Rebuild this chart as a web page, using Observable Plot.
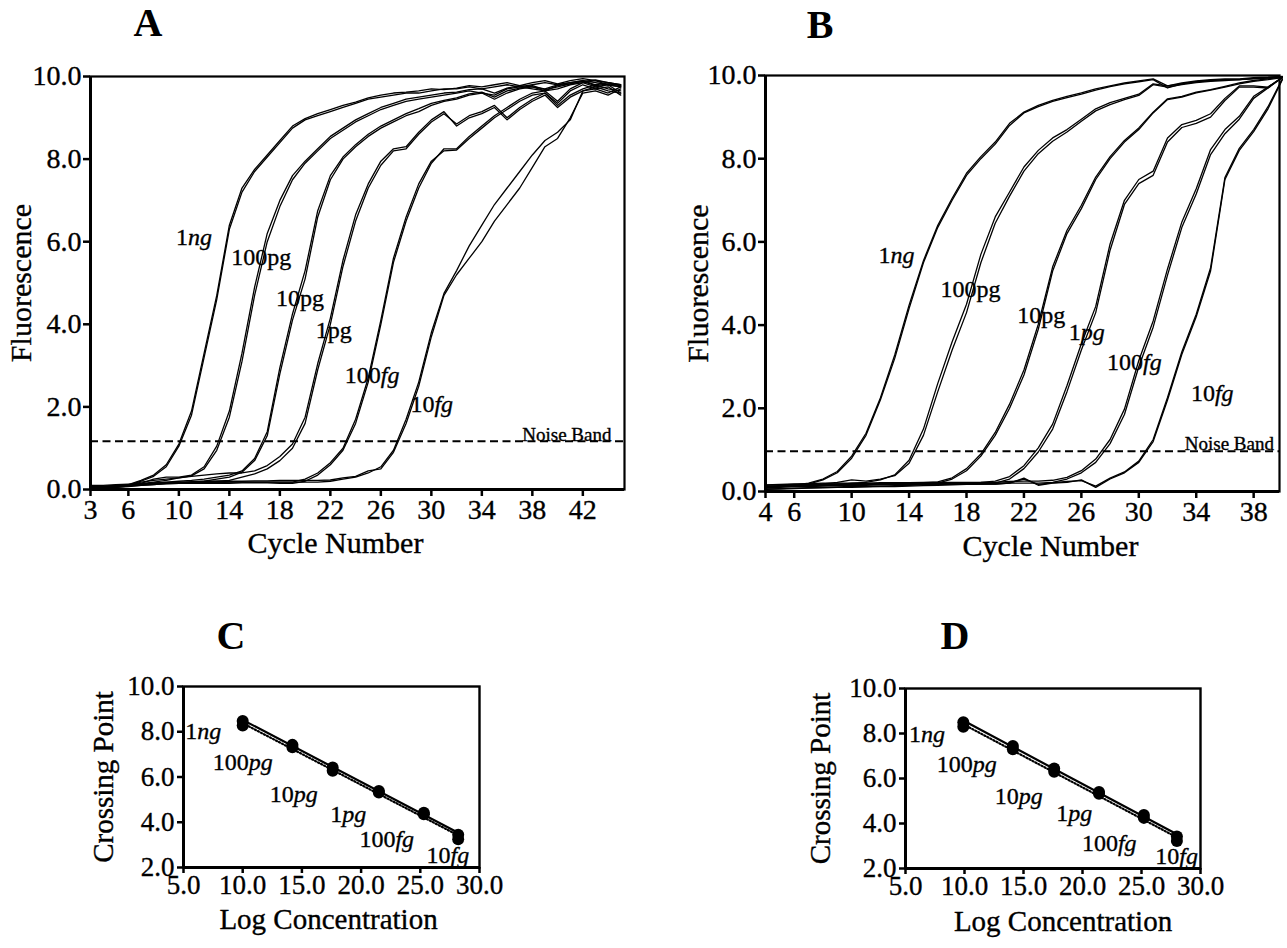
<!DOCTYPE html>
<html><head><meta charset="utf-8">
<script src="https://cdn.jsdelivr.net/npm/d3@7"></script>
<script src="https://cdn.jsdelivr.net/npm/@observablehq/plot@0.6"></script>
<style>
html,body{margin:0;padding:0;background:#fff;}
#page{position:relative;width:1287px;height:948px;overflow:hidden;font-family:"Liberation Serif","Times New Roman",serif;color:#000;}
.panel{position:absolute;}
#page svg text{font-family:"Liberation Serif","Times New Roman",serif !important;stroke:#000;stroke-width:0.35px;}
.letter{position:absolute;font-weight:bold;font-size:40px;line-height:1;transform:translateX(-50%);}
</style></head><body><div id="page"></div>
<script>
// ---------- Panel A : amplification curves (cycles 3..45) ----------
const cyclesA = [3,4,5,6,7,8,9,10,11,12,13,14,15,16,17,18,19,20,21,22,23,24,25,26,27,28,29,30,31,32,33,34,35,36,37,38,39,40,41,42,43,44,45];
const A_1ng_r1 = [0.05,0.05,0.06,0.10,0.20,0.32,0.55,1.05,1.80,3.20, 4.60,6.30,7.20,7.70,8.05,8.40,8.75,8.95,9.05,9.15, 9.25,9.35,9.45,9.50,9.55,9.60,9.60,9.65,9.70,9.70, 9.75,9.70,9.75,9.80,9.75,9.80,9.85,9.80,9.85,9.90, 9.85,9.80,9.75];
const A_1ng_r2 = [0.04,0.06,0.08,0.12,0.22,0.35,0.60,1.10,1.90,3.30, 4.70,6.40,7.30,7.75,8.10,8.45,8.80,8.98,9.10,9.20, 9.30,9.38,9.48,9.55,9.60,9.62,9.65,9.70,9.68,9.72, 9.78,9.75,9.80,9.85,9.78,9.85,9.90,9.82,9.90,9.95, 9.90,9.85,9.80];
const A_100pg_r1 = [0.05,0.05,0.06,0.08,0.15,0.25,0.30,0.30,0.35,0.55, 1.05,1.90,3.30,4.90,6.20,7.00,7.60,7.95,8.25,8.55, 8.75,8.95,9.10,9.25,9.35,9.45,9.50,9.55,9.60,9.62, 9.68,9.70,9.60,9.72,9.78,9.75,9.70,9.80,9.85,9.90, 9.80,9.85,9.80];
const A_100pg_r2 = [0.06,0.07,0.08,0.10,0.18,0.22,0.25,0.28,0.33,0.50, 0.95,1.75,3.10,4.70,6.00,6.85,7.50,7.90,8.20,8.50, 8.70,8.90,9.05,9.20,9.30,9.40,9.45,9.50,9.55,9.60, 9.65,9.60,9.55,9.70,9.75,9.70,9.65,9.78,9.82,9.88, 9.78,9.82,9.78];
const A_10pg_r1 = [0.04,0.05,0.05,0.07,0.10,0.12,0.14,0.15,0.17,0.20, 0.25,0.30,0.42,0.70,1.30,2.80,4.10,5.10,6.60,7.50, 8.00,8.30,8.55,8.75,8.90,9.05,9.15,9.30,9.40,9.45, 9.55,9.60,9.45,9.60,9.70,9.75,9.65,9.70,9.80,9.85, 9.90,9.80,9.75];
const A_10pg_r2 = [0.05,0.06,0.07,0.09,0.12,0.15,0.18,0.20,0.22,0.25, 0.30,0.35,0.45,0.75,1.40,2.95,4.25,5.30,6.75,7.60, 8.05,8.35,8.60,8.80,8.95,9.10,9.22,9.35,9.42,9.48, 9.58,9.62,9.50,9.65,9.72,9.78,9.68,9.75,9.82,9.88, 9.92,9.85,9.78];
const A_1pg_r1 = [0.05,0.06,0.06,0.08,0.10,0.12,0.14,0.15,0.16,0.18, 0.20,0.22,0.30,0.38,0.50,0.70,1.00,1.60,2.90,4.00, 5.40,6.50,7.30,7.85,8.20,8.25,8.60,8.90,9.10,8.85, 9.05,9.15,9.30,9.00,9.25,9.45,9.60,9.30,9.55,9.70, 9.80,9.70,9.65];
const A_1pg_r2 = [0.06,0.07,0.08,0.10,0.14,0.18,0.22,0.28,0.32,0.35, 0.38,0.40,0.40,0.45,0.58,0.80,1.10,1.75,3.05,4.15, 5.55,6.65,7.40,7.95,8.25,8.30,8.65,8.95,9.15,8.80, 9.00,9.10,9.25,8.95,9.20,9.40,9.55,9.25,9.50,9.65, 9.75,9.65,9.60];
const A_100fg_r1 = [0.08,0.08,0.10,0.12,0.12,0.14,0.14,0.15,0.15,0.15, 0.15,0.15,0.16,0.16,0.16,0.15,0.15,0.20,0.35,0.60, 0.95,1.60,2.60,4.00,5.50,6.50,7.30,7.90,8.25,8.25, 8.55,8.80,9.05,9.25,9.45,9.60,9.65,9.40,9.70,9.85, 9.75,9.80,9.60];
const A_100fg_r2 = [0.10,0.10,0.12,0.13,0.14,0.15,0.16,0.16,0.17,0.17, 0.17,0.18,0.18,0.18,0.18,0.18,0.18,0.25,0.40,0.65, 1.00,1.70,2.70,4.10,5.60,6.60,7.40,7.95,8.20,8.22, 8.50,8.75,9.00,9.20,9.40,9.55,9.60,9.35,9.65,9.80, 9.70,9.75,9.55];
const A_10fg_r1 = [0.05,0.06,0.08,0.10,0.12,0.15,0.15,0.16,0.16,0.17, 0.17,0.18,0.18,0.18,0.18,0.18,0.18,0.18,0.18,0.20, 0.25,0.30,0.40,0.55,0.95,1.70,2.60,3.80,4.75,5.30, 5.90,6.40,6.90,7.30,7.70,8.10,8.45,8.65,8.95,9.65, 9.70,9.60,9.75];
const A_10fg_r2 = [0.06,0.07,0.09,0.11,0.13,0.16,0.17,0.18,0.19,0.20, 0.20,0.20,0.20,0.21,0.21,0.22,0.22,0.22,0.22,0.23, 0.28,0.32,0.45,0.50,0.90,1.60,2.50,3.70,4.70,5.20, 5.60,6.00,6.50,6.90,7.30,7.80,8.30,8.50,9.00,9.60, 9.65,9.55,9.70];
const noiseA = 1.17;
const xTicksA = [3,6,10,14,18,22,26,30,34,38,42];

// ---------- Panel B : amplification curves (cycles 4..40) ----------
const cyclesB = [4,5,6,7,8,9,10,11,12,13,14,15,16,17,18,19,20,21,22,23,24,25,26,27,28,29,30,31,32,33,34,35,36,37,38,39,40];
const B_1ng_r1 = [0.08,0.10,0.13,0.18,0.28,0.45,0.80,1.35,2.20,3.20, 4.40,5.50,6.35,7.00,7.60,8.00,8.35,8.80,9.10,9.25, 9.38,9.47,9.55,9.65,9.73,9.80,9.85,9.90,9.70,9.80, 9.85,9.88,9.90,9.90,9.93,9.95,9.97];
const B_1ng_r2 = [0.10,0.12,0.15,0.20,0.30,0.48,0.85,1.40,2.25,3.28, 4.48,5.55,6.40,7.05,7.65,8.05,8.40,8.85,9.12,9.28, 9.40,9.50,9.58,9.68,9.75,9.82,9.87,9.92,9.75,9.82, 9.87,9.90,9.92,9.92,9.95,9.96,9.98];
const B_100pg_r1 = [0.10,0.12,0.12,0.13,0.14,0.16,0.20,0.22,0.28,0.40, 0.75,1.50,2.60,3.60,4.50,5.70,6.60,7.20,7.80,8.20, 8.50,8.70,8.95,9.20,9.35,9.45,9.55,9.80,9.75,9.80, 9.85,9.88,9.90,9.90,9.93,9.95,9.97];
const B_100pg_r2 = [0.12,0.14,0.15,0.16,0.18,0.22,0.28,0.25,0.30,0.38, 0.68,1.35,2.40,3.40,4.30,5.50,6.45,7.10,7.70,8.12, 8.42,8.64,8.90,9.15,9.30,9.42,9.52,9.78,9.72,9.78, 9.83,9.86,9.88,9.90,9.92,9.94,9.96];
const B_10pg_r1 = [0.10,0.11,0.12,0.12,0.13,0.14,0.15,0.15,0.16,0.17, 0.18,0.18,0.20,0.30,0.50,0.85,1.35,2.00,2.80,3.90, 5.30,6.20,6.80,7.50,8.00,8.40,8.70,9.10,9.42,9.48, 9.58,9.65,9.72,9.80,9.86,9.90,9.95];
const B_10pg_r2 = [0.12,0.13,0.14,0.15,0.15,0.16,0.17,0.18,0.18,0.19, 0.20,0.21,0.23,0.33,0.55,0.90,1.42,2.10,2.92,4.02, 5.40,6.28,6.88,7.56,8.05,8.44,8.74,9.12,9.44,9.50, 9.60,9.66,9.74,9.82,9.88,9.92,9.96];
const B_1pg_r1 = [0.05,0.06,0.07,0.08,0.09,0.10,0.10,0.11,0.12,0.12, 0.13,0.14,0.15,0.16,0.17,0.18,0.20,0.30,0.55,0.95, 1.50,2.40,3.40,4.30,5.80,6.90,7.40,7.60,8.40,8.75, 8.85,9.00,9.40,9.72,9.72,9.70,9.95];
const B_1pg_r2 = [0.06,0.07,0.08,0.09,0.10,0.11,0.12,0.12,0.13,0.14, 0.15,0.16,0.17,0.18,0.20,0.22,0.25,0.36,0.62,1.05, 1.62,2.55,3.55,4.45,5.95,7.00,7.50,7.70,8.50,8.82, 8.92,9.08,9.45,9.75,9.75,9.72,9.96];
const B_100fg_r1 = [0.15,0.16,0.17,0.17,0.18,0.18,0.18,0.18,0.18,0.18, 0.18,0.18,0.18,0.18,0.18,0.18,0.18,0.20,0.20,0.20, 0.22,0.30,0.45,0.70,1.15,1.85,3.00,3.95,5.20,6.35, 7.15,8.10,8.60,8.95,9.45,9.70,9.95];
const B_100fg_r2 = [0.16,0.17,0.18,0.19,0.20,0.20,0.20,0.20,0.21,0.21, 0.21,0.22,0.22,0.22,0.22,0.22,0.22,0.24,0.25,0.25, 0.27,0.34,0.50,0.78,1.25,1.98,3.15,4.10,5.35,6.48, 7.28,8.22,8.70,9.02,9.50,9.72,9.96];
const B_10fg_r1 = [0.10,0.12,0.14,0.15,0.15,0.16,0.17,0.17,0.17,0.18, 0.18,0.18,0.18,0.18,0.18,0.18,0.18,0.20,0.32,0.15, 0.20,0.22,0.28,0.10,0.30,0.45,0.70,1.20,2.20,3.30, 4.20,5.30,7.50,8.20,8.65,9.20,9.90];
const B_10fg_r2 = [0.11,0.13,0.15,0.16,0.16,0.17,0.18,0.18,0.18,0.19, 0.19,0.19,0.19,0.19,0.19,0.19,0.19,0.21,0.30,0.17, 0.21,0.24,0.26,0.13,0.32,0.47,0.73,1.25,2.26,3.36, 4.26,5.38,7.55,8.25,8.70,9.25,9.92];
const noiseB = 0.97;
const xTicksB = [4,6,10,14,18,22,26,30,34,38];

const yTicksAB = [0,2,4,6,8,10];

// curve labels: amount, unit, italic unit?, anchor cycle (split point), fluorescence
const labelNum = ["1","100","10","1","100","10"];
const labelUnit = ["ng","pg","pg","pg","fg","fg"];
const A_labelItalic = [true,false,false,false,true,true];
const A_labelX = [10.72,17.0,19.6,21.8,26.0,30.24];
const A_labelY = [6.1,5.62,4.62,3.85,2.76,2.07];
const B_labelItalic = [true,false,false,true,true,true];
const B_labelX = [12.7,18.7,23.2,25.95,30.3,35.3];
const B_labelY = [5.67,4.87,4.23,3.83,3.1,2.35];
const noiseText = "Noise Band";
const A_noiseLabelX = 37.2, A_noiseLabelY = 1.33;
const B_noiseLabelX = 33.2, B_noiseLabelY = 1.15;

// ---------- Panels C and D : standard curves ----------
const C_logConc = [10.0,14.2,17.6,21.5,25.3,28.2];
const C_cross_r1 = [8.48,7.42,6.42,5.38,4.42,3.45];
const C_cross_r2 = [8.28,7.32,6.28,5.32,4.35,3.25];
const D_logConc = [9.9,14.1,17.6,21.4,25.2,28.0];
const D_cross_r1 = [8.50,7.45,6.45,5.40,4.38,3.42];
const D_cross_r2 = [8.30,7.30,6.30,5.32,4.25,3.22];
const C_labelX = [6.16,10.52,14.32,18.4,22.9,27.55];
const C_labelY = [8.04,6.64,5.23,4.34,3.23,2.56];
const D_labelX = [6.31,10.69,14.6,18.8,23.0,28.2];
const D_labelY = [7.98,6.64,5.22,4.47,3.12,2.53];
const xTicksCD = [5,10,15,20,25,30];
const yTicksCD = [2,4,6,8,10];

// ---------- helpers ----------
const FONT = "Liberation Serif";
const page = document.getElementById("page");

function curveRows(cycles, series) {
  const rows = [];
  for (const [id, vals] of series) vals.forEach((v, i) => rows.push({id, cycle: cycles[i], value: v}));
  return rows;
}
function labelRows(xs, ys, italic) {
  return labelNum.map((n, i) => ({num: n, unit: labelUnit[i], italic: italic ? italic[i] : true, x: xs[i], y: ys[i]}));
}
function place(svg, left, top) {
  svg.setAttribute("font-family", FONT);
  svg.style.fontFamily = FONT;
  const wrap = document.createElement("div");
  wrap.className = "panel";
  wrap.style.left = left + "px";
  wrap.style.top = top + "px";
  wrap.appendChild(svg);
  page.appendChild(wrap);
}
function letter(t, cx, top) {
  const d = document.createElement("div");
  d.className = "letter"; d.textContent = t;
  d.style.left = cx + "px"; d.style.top = top + "px";
  page.appendChild(d);
}
const T = {fontFamily: FONT, fill: "black"};
function labelMarks(rows, fs) {
  return [
    Plot.text(rows, {...T, x: "x", y: "y", text: "num", textAnchor: "end", fontSize: fs}),
    Plot.text(rows.filter(d => d.italic), {...T, x: "x", y: "y", text: "unit", textAnchor: "start", fontSize: fs, fontStyle: "italic"}),
    Plot.text(rows.filter(d => !d.italic), {...T, x: "x", y: "y", text: "unit", textAnchor: "start", fontSize: fs})
  ];
}

function ampPanel(o) {
  const [fx0, fy0, fx1, fy1] = o.frame;
  return Plot.plot({
    width: o.w, height: o.h,
    marginLeft: fx0 - o.left, marginRight: o.left + o.w - fx1,
    marginTop: fy0 - o.top, marginBottom: o.top + o.h - fy1,
    style: {fontFamily: FONT, fontSize: "28px", color: "black", background: "transparent", overflow: "visible"},
    x: {domain: o.xDomain},
    y: {domain: [0, 10]},
    marks: [
      Plot.line(o.rows, {x: "cycle", y: "value", z: "id", stroke: "black", strokeWidth: 1.3}),
      Plot.ruleY([o.noise], {stroke: "black", strokeWidth: 2, strokeDasharray: "8,4.5"}),
      Plot.text([noiseText], {...T, x: o.noiseX, y: o.noiseY, textAnchor: "start", fontSize: 19}),
      ...labelMarks(o.labels, 24),
      Plot.frame({stroke: "black", strokeWidth: 2.2}),
      Plot.ruleX([o.xDomain[0]], {stroke: "black", strokeWidth: 3}),
      Plot.ruleY([0], {stroke: "black", strokeWidth: 3}),
      Plot.axisX({ticks: o.xTicks, tickFormat: d => String(d), tickSize: 7, tickPadding: 3, strokeWidth: 2.5, label: null, fontFamily: FONT, fontSize: 28}),
      Plot.axisY({ticks: yTicksAB, tickFormat: d3.format(".1f"), tickSize: 7, tickPadding: 2, strokeWidth: 2.5, label: null, fontFamily: FONT, fontSize: 28}),
      Plot.text(["Cycle Number"], {...T, frameAnchor: "bottom", textAnchor: "middle", dx: o.xLabelDx, dy: o.xLabelDy, fontSize: 30}),
      Plot.text(["Fluorescence"], {...T, frameAnchor: "left", textAnchor: "middle", dx: o.yLabelDx, rotate: -90, fontSize: 30})
    ]
  });
}

function stdPanel(o) {
  const [fx0, fy0, fx1, fy1] = o.frame;
  const p1 = o.xs.map((x, i) => ({x, y: o.r1[i]}));
  const p2 = o.xs.map((x, i) => ({x, y: o.r2[i]}));
  return Plot.plot({
    width: o.w, height: o.h,
    marginLeft: fx0 - o.left, marginRight: o.left + o.w - fx1,
    marginTop: fy0 - o.top, marginBottom: o.top + o.h - fy1,
    style: {fontFamily: FONT, fontSize: "27px", color: "black", background: "transparent", overflow: "visible"},
    x: {domain: [5, 30]},
    y: {domain: [2, 10]},
    marks: [
      Plot.linearRegressionY(p2, {x: "x", y: "y", ci: 0, stroke: "black", strokeWidth: 2.2, strokeDasharray: "1.2,2.2"}),
      Plot.linearRegressionY(p1, {x: "x", y: "y", ci: 0, stroke: "black", strokeWidth: 2.2}),
      Plot.dot(p1.concat(p2), {x: "x", y: "y", r: 6, fill: "black", stroke: "none"}),
      ...labelMarks(o.labels, 24),
      Plot.frame({stroke: "black", strokeWidth: 2.4}),
      Plot.ruleX([5], {stroke: "black", strokeWidth: 3}),
      Plot.ruleY([2], {stroke: "black", strokeWidth: 3}),
      Plot.axisX({ticks: xTicksCD, tickFormat: d3.format(".1f"), tickSize: 6, tickPadding: 1, strokeWidth: 2.5, label: null, fontFamily: FONT, fontSize: 27}),
      Plot.axisY({ticks: yTicksCD, tickFormat: d3.format(".1f"), tickSize: 6, tickPadding: 3, strokeWidth: 2.5, label: null, fontFamily: FONT, fontSize: 27}),
      Plot.text(["Log Concentration"], {...T, frameAnchor: "bottom", textAnchor: "middle", dx: o.xLabelDx, dy: o.xLabelDy, fontSize: 29}),
      Plot.text(["Crossing Point"], {...T, frameAnchor: "left", textAnchor: "middle", dx: o.yLabelDx, rotate: -90, fontSize: 29})
    ]
  });
}

// ---------- build ----------
const rowsA = curveRows(cyclesA, [
  ["1ng a", A_1ng_r1], ["1ng b", A_1ng_r2], ["100pg a", A_100pg_r1], ["100pg b", A_100pg_r2],
  ["10pg a", A_10pg_r1], ["10pg b", A_10pg_r2], ["1pg a", A_1pg_r1], ["1pg b", A_1pg_r2],
  ["100fg a", A_100fg_r1], ["100fg b", A_100fg_r2], ["10fg a", A_10fg_r1], ["10fg b", A_10fg_r2]]);
const rowsB = curveRows(cyclesB, [
  ["1ng a", B_1ng_r1], ["1ng b", B_1ng_r2], ["100pg a", B_100pg_r1], ["100pg b", B_100pg_r2],
  ["10pg a", B_10pg_r1], ["10pg b", B_10pg_r2], ["1pg a", B_1pg_r1], ["1pg b", B_1pg_r2],
  ["100fg a", B_100fg_r1], ["100fg b", B_100fg_r2], ["10fg a", B_10fg_r1], ["10fg b", B_10fg_r2]]);

place(ampPanel({left: 0, top: 0, w: 660, h: 590, frame: [90, 76, 624, 489], xDomain: [3, 45.3],
  rows: rowsA, noise: noiseA, noiseX: A_noiseLabelX, noiseY: A_noiseLabelY, xTicks: xTicksA,
  labels: labelRows(A_labelX, A_labelY, A_labelItalic), xLabelDx: -22, xLabelDy: 63, yLabelDx: -69}), 0, 0);
place(ampPanel({left: 660, top: 0, w: 627, h: 590, frame: [765, 75, 1279, 491], xDomain: [4, 39.8],
  rows: rowsB, noise: noiseB, noiseX: B_noiseLabelX, noiseY: B_noiseLabelY, xTicks: xTicksB,
  labels: labelRows(B_labelX, B_labelY, B_labelItalic), xLabelDx: 28, xLabelDy: 64, yLabelDx: -67}), 660, 0);
place(stdPanel({left: 0, top: 590, w: 640, h: 358, frame: [183, 686, 479, 867],
  xs: C_logConc, r1: C_cross_r1, r2: C_cross_r2, labels: labelRows(C_labelX, C_labelY),
  xLabelDx: -3, xLabelDy: 61, yLabelDx: -80}), 0, 590);
place(stdPanel({left: 640, top: 590, w: 647, h: 358, frame: [905, 688, 1200, 868],
  xs: D_logConc, r1: D_cross_r1, r2: D_cross_r2, labels: labelRows(D_labelX, D_labelY),
  xLabelDx: 10, xLabelDy: 62, yLabelDx: -85}), 640, 590);

letter("A", 148, 3);
letter("B", 820, 5);
letter("C", 231, 616);
letter("D", 955, 616);
</script>
</body></html>
